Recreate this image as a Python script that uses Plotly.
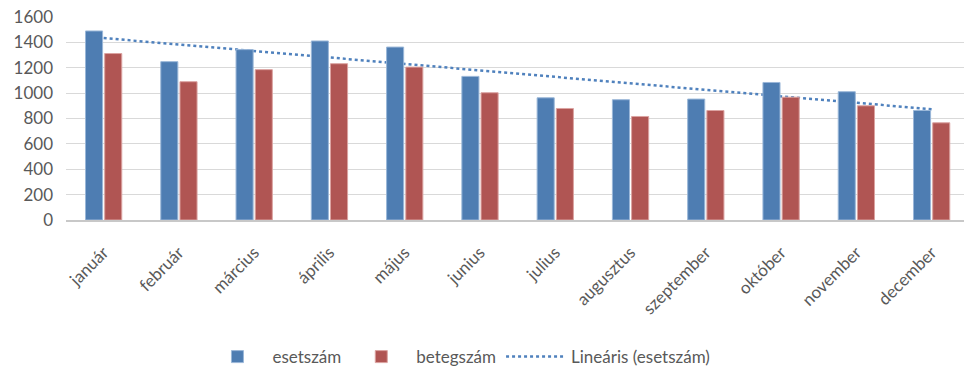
import plotly.graph_objects as go

months = ["január", "február", "március", "április", "május", "junius",
          "julius", "augusztus", "szeptember", "október", "november", "december"]
esetszam = [1490, 1248, 1343, 1411, 1363, 1132, 963, 948, 953, 1084, 1011, 863]
betegszam = [1312, 1090, 1185, 1232, 1205, 1003, 879, 816, 863, 968, 900, 766]
# linear trend of esetszám, read at first and last month
trend_months = ["január", "december"]
trend_values = [1434, 873]
y_ticks = [0, 200, 400, 600, 800, 1000, 1200, 1400, 1600]

FONT = "Lato, 'Open Sans', sans-serif"
GRAY = "#595959"
XRANGE = [-0.5, 11.43]
YRANGE = [0, 1600]

fig = go.Figure()
# trend line on base axes (drawn beneath the bars)
fig.add_trace(go.Scatter(
    x=trend_months, y=trend_values, mode="lines", name="Lineáris (esetszám)",
    line=dict(color="#4f81bd", width=2.5, dash="dot"), legendrank=3,
    xaxis="x", yaxis="y",
))
# bars on overlaid axes so they sit above the trend line
fig.add_trace(go.Bar(
    x=months, y=esetszam, name="esetszám", legendrank=1,
    marker=dict(color="#4e7db2", line=dict(color="#9ab7d8", width=1)),
    xaxis="x2", yaxis="y2",
))
fig.add_trace(go.Bar(
    x=months, y=betegszam, name="betegszám", legendrank=2,
    marker=dict(color="#b05553", line=dict(color="#dba3a1", width=1)),
    xaxis="x2", yaxis="y2",
))

fig.update_layout(
    width=964, height=370,
    margin=dict(l=66, r=0, t=17, b=150),
    paper_bgcolor="white", plot_bgcolor="white",
    barmode="group", bargap=0.49, bargroupgap=0.11,
    font=dict(family=FONT, size=17, color=GRAY),
    showlegend=True,
    legend=dict(orientation="h", xref="container", yref="container",
                x=0.21, xanchor="left", y=0.035, yanchor="middle",
                font=dict(family=FONT, size=17, color=GRAY),
                itemwidth=60, tracegroupgap=0),
    xaxis=dict(
        type="category", categoryorder="array", categoryarray=months,
        range=XRANGE,
        tickangle=-45, showgrid=False, showline=True,
        linecolor="#c8c8c8", linewidth=2,
        tickfont=dict(family=FONT, size=17, color=GRAY),
        ticks="", ticklabelshift=0, ticklabelstandoff=14,
    ),
    yaxis=dict(
        range=YRANGE, tickvals=y_ticks, showgrid=True,
        gridcolor="#d9d9d9", gridwidth=1, zeroline=False, showline=False,
        tickfont=dict(family=FONT, size=17, color=GRAY),
        ticks="", ticklabelstandoff=12,
    ),
    xaxis2=dict(
        type="category", categoryorder="array", categoryarray=months,
        range=XRANGE, overlaying="x", visible=False, matches="x",
    ),
    yaxis2=dict(
        range=YRANGE, overlaying="y", visible=False, showgrid=False,
        zeroline=False,
    ),
)

fig.write_html("out.html")
